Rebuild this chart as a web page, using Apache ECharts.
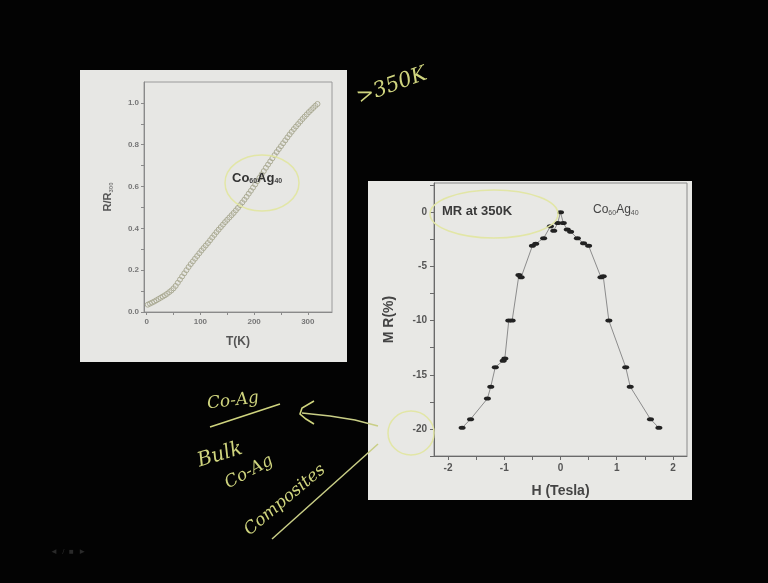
<!DOCTYPE html>
<html>
<head>
<meta charset="utf-8">
<script src="https://cdn.jsdelivr.net/npm/echarts@6/dist/echarts.min.js"></script>
<style>
html,body{margin:0;padding:0;background:#030303;}
#chart{width:768px;height:583px;}
</style>
</head>
<body>
<div id="chart"></div>
<script>
// Left chart: R/R300 vs T(K)
var tempK = [2,6,10,14,18,22,26,30,34,38,42,46,50,54,58,62,66,70,74,78,82,86,90,94,98,102,106,110,114,118,122,126,130,134,138,142,146,150,154,158,162,166,170,174,178,182,186,190,194,198,202,206,210,214,218,222,226,230,234,238,242,246,250,254,258,262,266,270,274,278,282,286,290,294,298,302,306,310,314,318];
var resRatio = [0.035,0.040,0.045,0.050,0.056,0.062,0.068,0.074,0.080,0.087,0.095,0.103,0.113,0.125,0.140,0.155,0.170,0.185,0.200,0.215,0.229,0.242,0.255,0.268,0.281,0.294,0.306,0.318,0.330,0.343,0.356,0.369,0.382,0.394,0.406,0.418,0.430,0.441,0.452,0.463,0.474,0.486,0.498,0.511,0.524,0.537,0.551,0.566,0.580,0.595,0.610,0.626,0.642,0.658,0.674,0.690,0.705,0.720,0.735,0.750,0.765,0.779,0.793,0.807,0.821,0.835,0.849,0.862,0.875,0.887,0.899,0.911,0.923,0.934,0.945,0.956,0.966,0.976,0.986,0.995];

// Right chart: MR(%) vs H (Tesla) at 350K
var fieldT = [-1.75,-1.6,-1.3,-1.24,-1.16,-1.02,-0.99,-0.92,-0.86,-0.74,-0.7,-0.5,-0.44,-0.3,-0.18,-0.12,-0.05,0,0.05,0.12,0.18,0.3,0.41,0.5,0.72,0.76,0.86,1.16,1.24,1.6,1.75];
var mrPct = [-19.9,-19.1,-17.2,-16.1,-14.3,-13.7,-13.5,-10,-10,-5.8,-6.0,-3.1,-2.9,-2.4,-1.3,-1.7,-1.0,0,-1.0,-1.6,-1.8,-2.4,-2.85,-3.1,-6.0,-5.9,-10,-14.3,-16.1,-19.1,-19.9];

var leftXTicks = [0,100,200,300];
var leftXTickMarks = [0,50,100,150,200,250,300];
var leftYTicks = [0,0.2,0.4,0.6,0.8,1.0];
var leftYTickMarks = [0,0.1,0.2,0.3,0.4,0.5,0.6,0.7,0.8,0.9,1.0];
var rightXTicks = [-2,-1,0,1,2];
var rightXTickMarks = [-2,-1.5,-1,-0.5,0,0.5,1,1.5,2];
var rightYTicks = [0,-5,-10,-15,-20];
var rightYTickMarks = [2.5,0,-2.5,-5,-7.5,-10,-12.5,-15,-17.5,-20,-22.5];

function zipXY(xs, ys){ return xs.map(function(x,i){return [x, ys[i]];}); }

var FONT = 'Liberation Sans';
var HAND = '#cfd47e';
var HANDFONT = 'DejaVu Serif';

var chart = echarts.init(document.getElementById('chart'));
chart.setOption({
  backgroundColor: '#030303',
  animation: false,
  grid: [
    {left:144, top:82, width:188, height:230, show:true, borderColor:'#9a9a9a', borderWidth:1, backgroundColor:'transparent', containLabel:false},
    {left:434, top:183, width:253, height:273, show:true, borderColor:'#8a8a8a', borderWidth:1, backgroundColor:'transparent', containLabel:false}
  ],
  xAxis: [
    {gridIndex:0, type:'value', min:-5, max:345,
     axisLine:{show:true, onZero:false, lineStyle:{color:'#8a8a8a'}},
     axisTick:{show:true, length:3, customValues:leftXTickMarks, lineStyle:{color:'#8a8a8a'}},
     splitLine:{show:false},
     axisLabel:{color:'#777', fontSize:8, fontWeight:'bold', fontFamily:FONT, margin:6, customValues:leftXTicks,
       formatter:function(v){ return String(v); }},
     name:'T(K)', nameLocation:'middle', nameGap:24, nameTextStyle:{color:'#555', fontSize:12, fontWeight:'bold', fontFamily:FONT}},
    {gridIndex:1, type:'value', min:-2.25, max:2.25,
     axisLine:{show:true, onZero:false, lineStyle:{color:'#6a6a6a'}},
     axisTick:{show:true, length:4, customValues:rightXTickMarks, lineStyle:{color:'#6a6a6a'}},
     splitLine:{show:false},
     axisLabel:{color:'#555', fontSize:10, fontWeight:'bold', fontFamily:FONT, margin:7, customValues:rightXTicks,
       formatter:function(v){ return String(Math.round(v)); }},
     name:'H (Tesla)', nameLocation:'middle', nameGap:28, nameTextStyle:{color:'#444', fontSize:14, fontWeight:'bold', fontFamily:FONT}}
  ],
  yAxis: [
    {gridIndex:0, type:'value', min:0, max:1.1,
     axisLine:{show:true, onZero:false, lineStyle:{color:'#8a8a8a'}},
     axisTick:{show:true, length:3, customValues:leftYTickMarks, lineStyle:{color:'#8a8a8a'}},
     splitLine:{show:false},
     axisLabel:{color:'#777', fontSize:8, fontWeight:'bold', fontFamily:FONT, margin:5, customValues:leftYTicks,
       formatter:function(v){ return v.toFixed(1); }},
     name:'{a|R/R}{s|300}', nameLocation:'middle', nameRotate:90, nameGap:30,
     nameTextStyle:{color:'#555', fontFamily:FONT, rich:{a:{fontSize:11, fontWeight:'bold', color:'#555', fontFamily:FONT}, s:{fontSize:6, fontWeight:'bold', color:'#777', verticalAlign:'bottom', padding:[6,0,0,0], fontFamily:FONT}}}},
    {gridIndex:1, type:'value', min:-22.5, max:2.7,
     axisLine:{show:true, onZero:false, lineStyle:{color:'#6a6a6a'}},
     axisTick:{show:true, length:4, customValues:rightYTickMarks, lineStyle:{color:'#6a6a6a'}},
     splitLine:{show:false},
     axisLabel:{color:'#555', fontSize:10, fontWeight:'bold', fontFamily:FONT, margin:7, customValues:rightYTicks,
       formatter:function(v){ return String(Math.round(v)); }},
     name:'M R(%)', nameLocation:'middle', nameRotate:90, nameGap:38,
     nameTextStyle:{color:'#444', fontSize:14, fontWeight:'bold', fontFamily:FONT}}
  ],
  series: [
    {type:'scatter', xAxisIndex:0, yAxisIndex:0, data:zipXY(tempK,resRatio), symbol:'circle', symbolSize:5,
     itemStyle:{color:'rgba(230,230,226,0.3)', borderColor:'#a0a086', borderWidth:1}, z:3},
    {type:'line', xAxisIndex:1, yAxisIndex:1, data:zipXY(fieldT,mrPct), symbol:'circle', symbolSize:[7,4],
     lineStyle:{color:'#8c8c8c', width:1}, itemStyle:{color:'#222'}, z:3}
  ],
  graphic: [
    {type:'rect', z:-10, shape:{x:80, y:70, width:267, height:292}, style:{fill:'#e7e7e4'}},
    {type:'rect', z:-10, shape:{x:368, y:181, width:324, height:319}, style:{fill:'#e8e8e5'}},
    // in-chart labels
    {type:'text', z:50, x:232, y:178, style:{text:'{a|Co}{s|60}{a|Ag}{s|40}', verticalAlign:'middle',
      rich:{a:{fontSize:13, fontWeight:'bold', fill:'#333', fontFamily:FONT}, s:{fontSize:7, fontWeight:'bold', fill:'#444', verticalAlign:'bottom', padding:[7,0,0,0], fontFamily:FONT}}}},
    {type:'text', z:50, x:442, y:211, style:{text:'MR at 350K', fontSize:13, fontWeight:'bold', fill:'#3a3a3a', fontFamily:FONT, verticalAlign:'middle'}},
    {type:'text', z:50, x:593, y:210, style:{text:'{a|Co}{s|60}{a|Ag}{s|40}', verticalAlign:'middle',
      rich:{a:{fontSize:12, fill:'#444', fontFamily:FONT}, s:{fontSize:7, fill:'#555', verticalAlign:'bottom', padding:[7,0,0,0], fontFamily:FONT}}}},
    // yellow hand-drawn annotations
    {type:'ellipse', z:60, shape:{cx:262, cy:183, rx:37, ry:28}, style:{fill:null, stroke:'#e2e6a6', lineWidth:1.5}},
    {type:'ellipse', z:60, shape:{cx:494, cy:214, rx:64, ry:24}, style:{fill:null, stroke:'#e2e6a6', lineWidth:1.5}},
    {type:'ellipse', z:60, shape:{cx:411, cy:433, rx:23, ry:22}, style:{fill:null, stroke:'#e2e6a6', lineWidth:1.5}},
    {type:'text', z:60, x:392, y:86, rotation:0.35, style:{text:'>350K', fontSize:21, fontStyle:'italic', fill:HAND, fontFamily:HANDFONT, align:'center', verticalAlign:'middle'}},
    {type:'text', z:60, x:233, y:401, rotation:0.12, style:{text:'Co-Ag', fontSize:17, fontStyle:'italic', fill:HAND, fontFamily:HANDFONT, align:'center', verticalAlign:'middle'}},
    {type:'line', z:60, shape:{x1:210, y1:427, x2:280, y2:404}, style:{stroke:HAND, lineWidth:1.6}},
    {type:'text', z:60, x:220, y:455, rotation:0.3, style:{text:'Bulk', fontSize:20, fontStyle:'italic', fill:HAND, fontFamily:HANDFONT, align:'center', verticalAlign:'middle'}},
    {type:'text', z:60, x:249, y:472, rotation:0.5, style:{text:'Co-Ag', fontSize:17, fontStyle:'italic', fill:HAND, fontFamily:HANDFONT, align:'center', verticalAlign:'middle'}},
    {type:'text', z:60, x:285, y:500, rotation:0.7, style:{text:'Composites', fontSize:17, fontStyle:'italic', fill:HAND, fontFamily:HANDFONT, align:'center', verticalAlign:'middle'}},
    {type:'line', z:60, shape:{x1:272, y1:539, x2:378, y2:444}, style:{stroke:'#c9ce86', lineWidth:1.5}},
    {type:'polyline', z:60, shape:{points:[[314,401],[302,408],[300,414],[306,419],[314,424]]}, style:{stroke:HAND, lineWidth:1.6, fill:null}},
    {type:'polyline', z:60, shape:{points:[[302,413],[330,416],[355,420],[378,426]]}, style:{stroke:'#c9ce86', lineWidth:1.4, fill:null}},
    // faint slide controls
    {type:'text', z:5, x:50, y:552, style:{text:'\u25C4  /  \u25A0  \u25BA', fontSize:8, fill:'#2a2a2a', fontFamily:FONT, verticalAlign:'middle'}}
  ]
});
</script>
</body>
</html>
